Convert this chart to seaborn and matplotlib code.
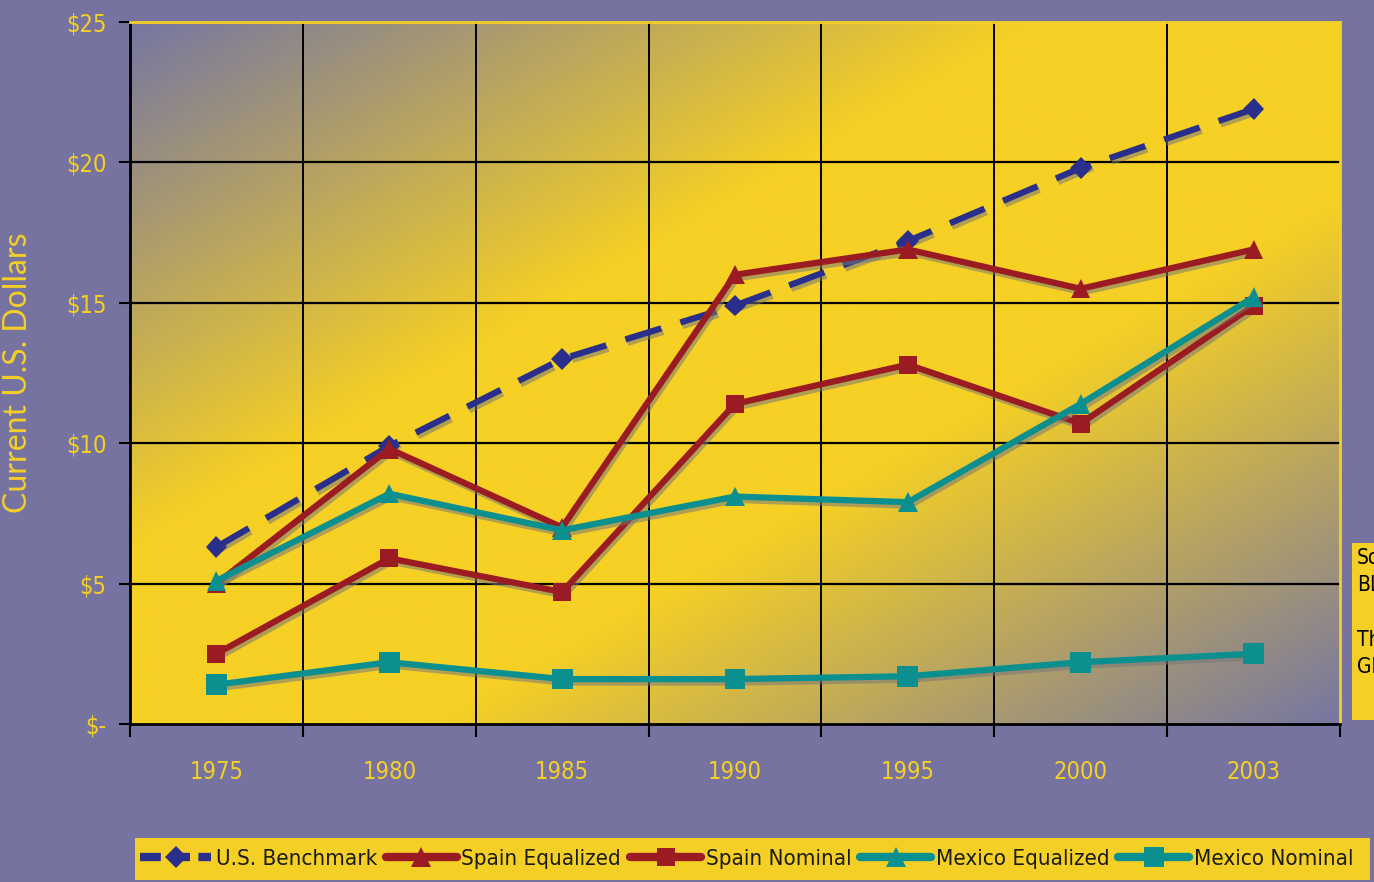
import numpy as np
import pandas as pd
import matplotlib
matplotlib.use("Agg")
import matplotlib.pyplot as plt
import matplotlib.patheffects as pe
from matplotlib import font_manager
from matplotlib.lines import Line2D
import seaborn as sns

# ---- data ----
years = ["1975", "1980", "1985", "1990", "1995", "2000", "2003"]
us_benchmark = [6.3, 9.9, 13.0, 14.9, 17.2, 19.8, 21.9]
spain_equalized = [5.0, 9.8, 7.0, 16.0, 16.9, 15.5, 16.9]
spain_nominal = [2.5, 5.9, 4.7, 11.4, 12.8, 10.7, 14.9]
mexico_equalized = [5.1, 8.2, 6.9, 8.1, 7.9, 11.4, 15.2]
mexico_nominal = [1.4, 2.2, 1.6, 1.6, 1.7, 2.2, 2.5]
series_names = ["U.S. Benchmark", "Spain Equalized", "Spain Nominal",
                "Mexico Equalized", "Mexico Nominal"]
y_ticks = [0, 5, 10, 15, 20, 25]
y_tick_labels = ["$-", "$5", "$10", "$15", "$20", "$25"]

# ---- style ----
BG = "#7773a1"
YELLOW = "#f4cf26"
NAVY = "#2b2f8c"
RED = "#9a1c22"
TEAL = "#0b8f8f"

sns.set_theme(style="white")

# pick a narrow sans face if one is installed, otherwise a compact regular one
cond_family, cond_stretch = None, "normal"
for fe in font_manager.fontManager.ttflist:
    nm = fe.name
    st = str(fe.stretch).lower()
    if fe.style != "normal" or fe.weight not in (400, "normal", "regular"):
        continue
    if "narrow" in nm.lower() or "condensed" in nm.lower():
        cond_family, cond_stretch = nm, "normal"
        break
    if "condensed" in st and "sans" in nm.lower() and "mono" not in nm.lower():
        cond_family, cond_stretch = nm, "condensed"
        break
if cond_family is None:
    cond_family, scale = "Roboto", 0.9
else:
    scale = 1.0
plt.rcParams["font.family"] = [cond_family, "DejaVu Sans"]
plt.rcParams["font.stretch"] = cond_stretch

df = pd.DataFrame({
    "pos": np.tile(np.arange(len(years)), len(series_names)),
    "value": us_benchmark + spain_equalized + spain_nominal + mexico_equalized + mexico_nominal,
    "series": np.repeat(series_names, len(years)),
})

styles = {
    "U.S. Benchmark": dict(color=NAVY, marker="D", ms=11, dashes=(6.0, 3.2)),
    "Spain Equalized": dict(color=RED, marker="^", ms=14, dashes=None),
    "Spain Nominal": dict(color=RED, marker="s", ms=13, dashes=None),
    "Mexico Equalized": dict(color=TEAL, marker="^", ms=14, dashes=None),
    "Mexico Nominal": dict(color=TEAL, marker="s", ms=15, dashes=None),
}

fig = plt.figure(figsize=(13.74, 8.82), dpi=100, facecolor=BG)
ax = fig.add_axes([130 / 1374, 1 - 724 / 882, 1210 / 1374, 702 / 882])

# diagonal purple -> yellow -> purple background of the plotting area
W, H = 600, 350
xx, yy = np.meshgrid(np.linspace(0, 1, W), np.linspace(0, 1, H))
d = np.abs(xx + yy - 1.0)
f = np.clip((1.0 - d) / 0.75, 0, 1)
c0 = np.array(matplotlib.colors.to_rgb("#7676a2"))
c1 = np.array(matplotlib.colors.to_rgb("#f6d024"))
img = c0[None, None, :] + (c1 - c0)[None, None, :] * f[..., None]
ax.imshow(img, extent=(-0.5, 6.5, 0, 25), aspect="auto", zorder=0,
          interpolation="bilinear", origin="upper")

shadow = [pe.SimpleLineShadow(offset=(1.5, -2.5), shadow_color="#777777", alpha=0.55),
          pe.Normal()]

for name in series_names:
    st = styles[name]
    sub = df[df["series"] == name]
    sns.lineplot(data=sub, x="pos", y="value", ax=ax, color=st["color"], lw=4.5,
                 marker=st["marker"], markersize=st["ms"], markeredgewidth=0,
                 zorder=5, legend=False)
    line = ax.lines[-1]
    if st["dashes"]:
        line.set_dashes(st["dashes"])
        line.set_dash_capstyle("butt")
    line.set_path_effects(shadow)

ax.set_xlim(-0.5, 6.5)
ax.set_ylim(0, 25)
ax.set_xlabel("")
ax.set_ylabel("Current U.S. Dollars", color=YELLOW, fontsize=23,
              family=["Lato", "Open Sans", "DejaVu Sans"], fontstretch="normal")
ax.yaxis.set_label_coords(-0.08, 0.5)

ax.set_xticks(range(len(years)))
ax.set_xticklabels(years)
ax.set_xticks(np.arange(-0.5, 7.0, 1.0), minor=True)
ax.tick_params(axis="x", which="major", length=0, pad=26, labelsize=17 * scale, labelcolor=YELLOW)
ax.tick_params(axis="x", which="minor", length=9, width=1.5, color="black", direction="out")
ax.set_yticks(y_ticks)
ax.set_yticklabels(y_tick_labels)
ax.tick_params(axis="y", which="major", length=8, width=1.5, color="black",
               direction="out", labelsize=17 * scale, labelcolor=YELLOW, pad=9)
ax.tick_params(left=True, bottom=True, which="both")

ax.grid(False)
for xv in np.arange(0.5, 6.5, 1.0):
    ax.axvline(xv, color="black", lw=1.4, zorder=1)
for yv in y_ticks[1:-1]:
    ax.axhline(yv, color="black", lw=1.6, zorder=1)

for s in ["left", "bottom"]:
    ax.spines[s].set_color("black")
    ax.spines[s].set_linewidth(2)
for s in ["top", "right"]:
    ax.spines[s].set_color(YELLOW)
    ax.spines[s].set_linewidth(2)

# legend strip along the bottom
fig.patches.append(matplotlib.patches.Rectangle((135 / 1374, 2 / 882), 1235 / 1374, 42 / 882,
                                                transform=fig.transFigure, facecolor=YELLOW,
                                                edgecolor="none", zorder=1))
handles = []
for name in series_names:
    st = styles[name]
    h = Line2D([], [], color=st["color"], lw=6, marker=st["marker"],
               markersize=st["ms"], markeredgewidth=0)
    if st["dashes"]:
        h.set_dashes((2.5, 1.0))
    handles.append(h)
leg = fig.legend(handles, series_names, loc="center left",
                 bbox_to_anchor=(140 / 1374, 23 / 882),
                 ncol=5, frameon=False, fontsize=16 * scale, handlelength=3.2,
                 handletextpad=0.2, columnspacing=0.4, borderpad=0, borderaxespad=0)
for t in leg.get_texts():
    t.set_color("#1a1a1a")

# side note box at right edge
fig.patches.append(matplotlib.patches.Rectangle((1352 / 1374, 1 - 720 / 882), 40 / 1374, 177 / 882,
                                                transform=fig.transFigure, facecolor=YELLOW,
                                                edgecolor="none", zorder=3))
fig.text(1357 / 1374, 1 - 548 / 882, "Source:\nBLS\n\nThe\nGlobal", fontsize=15, color="black",
         va="top", ha="left", linespacing=1.45, zorder=4)

fig.savefig("out.png", dpi=100, facecolor=BG)
